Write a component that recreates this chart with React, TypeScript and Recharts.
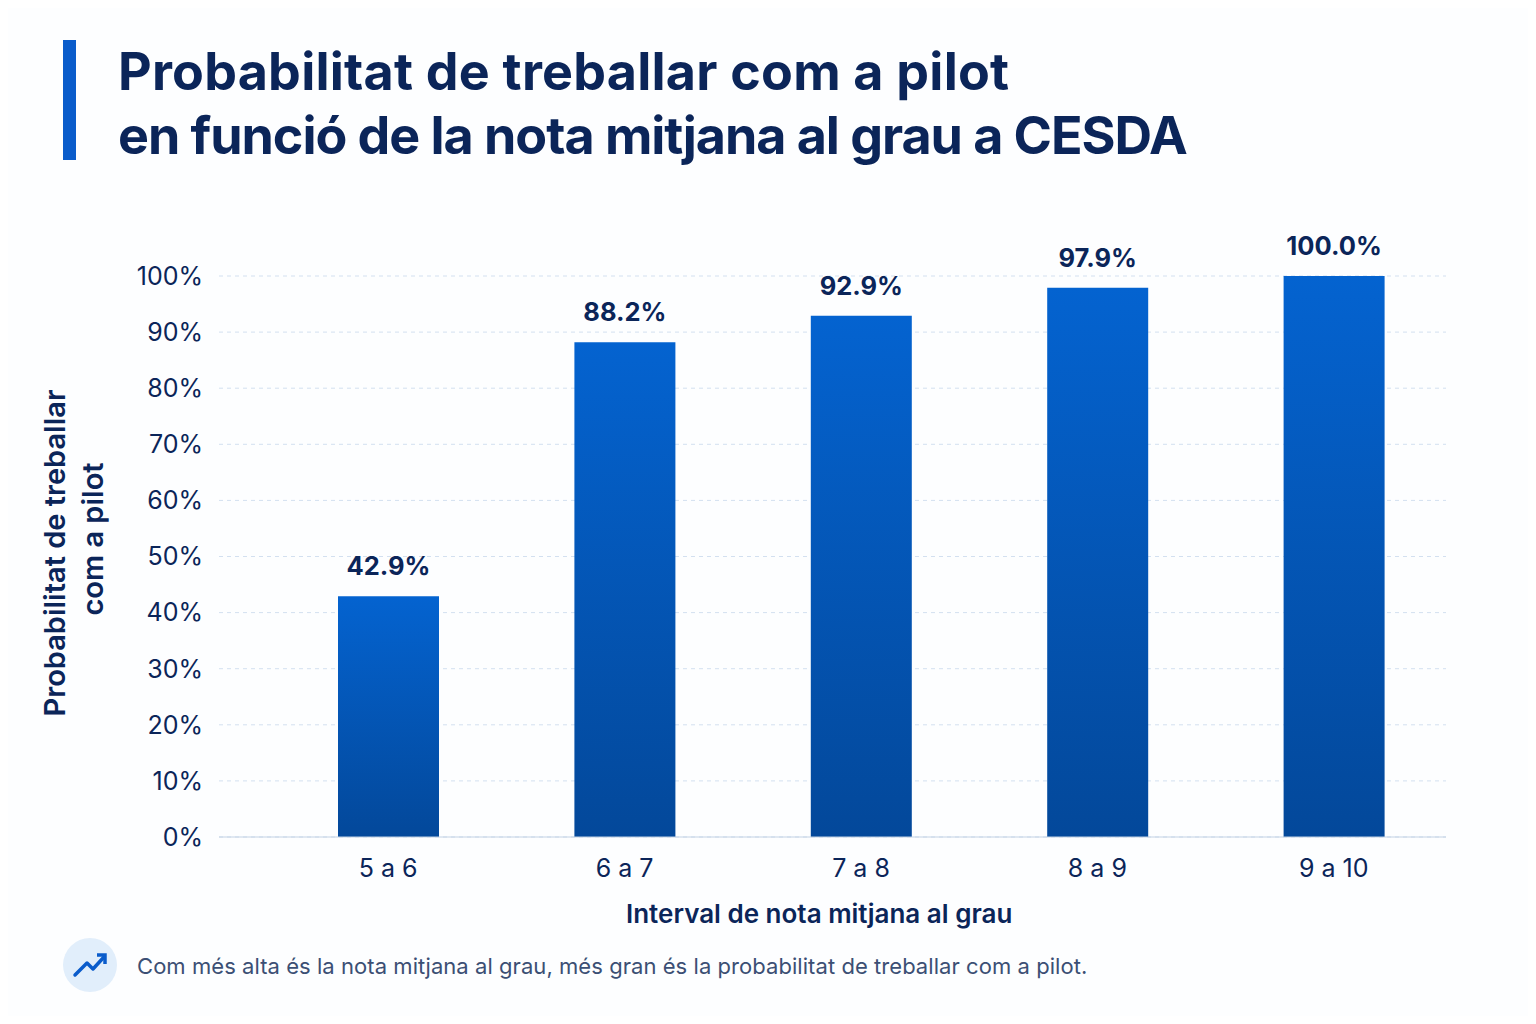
import { BarChart, Bar, XAxis, YAxis, CartesianGrid, LabelList } from "recharts";

const categories = ["5 a 6", "6 a 7", "7 a 8", "8 a 9", "9 a 10"];
const probabilities = [42.9, 88.2, 92.9, 97.9, 100];
const yTicks = [0, 10, 20, 30, 40, 50, 60, 70, 80, 90, 100];

const chartData = categories.map((interval, i) => ({ interval, value: probabilities[i] }));

const NAVY = "#0b2559";
const FONT = "Inter, 'Noto Sans', sans-serif";

export default function App() {
  return (
    <div style={{ position: "relative", width: 1536, height: 1024, margin: -8, background: "#fdfeff", fontFamily: FONT, overflow: "hidden" }}>
      {/* title */}
      <div style={{ position: "absolute", left: 63, top: 40, width: 13, height: 120, background: "#0a5ccb" }} />
      <div style={{ position: "absolute", left: 118, top: 40, fontSize: 52, lineHeight: "64px", fontWeight: 700, color: NAVY, whiteSpace: "nowrap" }}>
        <span style={{ letterSpacing: 0.23 }}>Probabilitat de treballar com a pilot</span>
        <br />
        <span style={{ letterSpacing: -1.04 }}>en funció de la nota mitjana al grau a CESDA</span>
      </div>

      {/* y axis title */}
      <div style={{ position: "absolute", left: 74, top: 553, width: 0, height: 0 }}>
        <div style={{ position: "absolute", transform: "translate(-50%, -50%) rotate(-90deg)", width: 400, textAlign: "center", fontSize: 29, lineHeight: "38px", fontWeight: 600, color: NAVY }}>
          Probabilitat de treballar
          <br />
          <span style={{ position: "relative", left: 14 }}>com a pilot</span>
        </div>
      </div>

      <div style={{ position: "absolute", left: 120, top: 200 }}>
        <BarChart width={1326} height={690} data={chartData} margin={{ top: 76, right: 0, bottom: 23, left: 0 }} barSize={101}>
          <defs>
            <linearGradient id="barFill" x1="0" y1="0" x2="0" y2="1">
              <stop offset="0%" stopColor="#0463d0" />
              <stop offset="100%" stopColor="#03489a" />
            </linearGradient>
          </defs>
          <CartesianGrid vertical={false} stroke="#d3e0f0" strokeDasharray="4 4" />
          <XAxis
            dataKey="interval"
            axisLine={{ stroke: "#c3d2e4" }}
            tickLine={false}
            tick={{ fontSize: 25, fill: NAVY }}
            tickMargin={16}
            padding={{ left: 51, right: -6 }}
          />
          <YAxis
            width={99}
            domain={[0, 100]}
            ticks={yTicks}
            tickFormatter={(v: number) => `${v}%`}
            axisLine={false}
            tickLine={false}
            tick={{ fontSize: 25, fill: NAVY }}
            tickMargin={10}
          />
          <Bar dataKey="value" fill="url(#barFill)" isAnimationActive={false}>
            <LabelList
              dataKey="value"
              position="top"
              offset={21}
              formatter={(v: unknown) => `${Number(v).toFixed(1)}%`}
              style={{ fontSize: 25.5, fontWeight: 700, fill: NAVY }}
            />
          </Bar>
        </BarChart>
      </div>

      <div style={{ position: "absolute", left: 626, top: 898, fontSize: 26, fontWeight: 600, color: NAVY, whiteSpace: "nowrap" }}>
        Interval de nota mitjana al grau
      </div>

      {/* takeaway */}
      <div style={{ position: "absolute", left: 63, top: 938, width: 54, height: 54, borderRadius: "50%", background: "#e1eefb" }}>
        <svg width={54} height={54} viewBox="0 0 54 54">
          <path d="M12 37 L24 25 L30 31 L41 19" fill="none" stroke="#0a5ccb" strokeWidth={3.5} strokeLinecap="round" strokeLinejoin="round" />
          <path d="M34 17 L42 17 L42 26" fill="none" stroke="#0a5ccb" strokeWidth={3.5} strokeLinejoin="miter" />
        </svg>
      </div>
      <div style={{ position: "absolute", left: 137, top: 953, fontSize: 22, letterSpacing: 0.055, color: "#3b4f74", whiteSpace: "nowrap" }}>
        Com més alta és la nota mitjana al grau, més gran és la probabilitat de treballar com a pilot.
      </div>
    </div>
  );
}
